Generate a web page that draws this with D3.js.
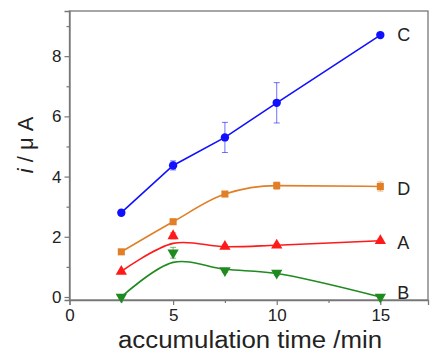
<!DOCTYPE html>
<html>
<head>
<meta charset="utf-8">
<script src="https://cdn.jsdelivr.net/npm/d3@7"></script>
<style>
  body { margin: 0; background: #fff; }
  text { font-family: "Liberation Sans", Arial, sans-serif; fill: #222; }
</style>
</head>
<body>
<div class="chart"></div>
<script>
// accumulation time (min)
var times = [2.5, 5, 7.5, 10, 15];

// measured currents (uA) and error bars
var seriesC = [2.8, 4.37, 5.3, 6.45, 8.7];
var errC = [0.08, 0.15, 0.5, 0.67, 0.06];
var seriesD = [1.5, 2.5, 3.42, 3.7, 3.67];
var errD = [0.05, 0.08, 0.08, 0.12, 0.15];
var seriesA = [0.85, 2.03, 1.68, 1.72, 1.87];
var errA = [0.03, 0.1, 0.05, 0.05, 0.05];
var seriesB = [0.0, 1.47, 0.88, 0.8, 0.0];
var errB = [0.03, 0.18, 0.06, 0.08, 0.03];

// fitted curves drawn through the points
var fitA = [0.85, 1.78, 1.67, 1.72, 1.87];
var fitB = [0.0, 1.15, 0.92, 0.78, 0.0];

var xTicks = [0, 5, 10, 15];
var yTicks = [0, 2, 4, 6, 8];

var width = 430, height = 353;
var mLeft = 69.5, mRight = 428, mTop = 11, mBottom = 300;

var x = d3.scaleLinear().domain([0, 17.3]).range([mLeft, mRight]);
var y = d3.scaleLinear().domain([-0.1, 9.5]).range([mBottom, mTop]);

var svg = d3.select('.chart').append('svg')
  .attr('width', width)
  .attr('height', height);

// frame
svg.append('rect')
  .attr('x', mLeft).attr('y', mTop)
  .attr('width', mRight - mLeft).attr('height', mBottom - mTop)
  .attr('fill', 'none').attr('stroke', '#777').attr('stroke-width', 1.3);

// x axis
svg.append('g')
  .attr('transform', 'translate(0,' + mBottom + ')')
  .call(d3.axisBottom(x).tickValues(xTicks).tickSize(5).tickPadding(4).tickFormat(d3.format('d')));
svg.append('g')
  .attr('transform', 'translate(0,' + mBottom + ')')
  .call(d3.axisBottom(x).tickValues([2.5, 7.5, 12.5]).tickSize(3).tickFormat(''))
  .select('.domain').remove();

// y axis
svg.append('g')
  .attr('transform', 'translate(' + mLeft + ',0)')
  .call(d3.axisLeft(y).tickValues(yTicks).tickSize(5).tickPadding(3).tickFormat(d3.format('d')));
svg.append('g')
  .attr('transform', 'translate(' + mLeft + ',0)')
  .call(d3.axisLeft(y).tickValues([1, 3, 5, 7, 9]).tickSize(3).tickFormat(''))
  .select('.domain').remove();

svg.selectAll('.domain').attr('stroke', '#777').attr('stroke-width', 1.3);
svg.selectAll('.tick line').attr('stroke', '#777').attr('stroke-width', 1.2);
svg.selectAll('.tick text').attr('font-size', 17).attr('fill', '#222')
  .attr('font-family', '"Liberation Sans", Arial, sans-serif');

// axis titles
svg.append('text')
  .attr('x', 250).attr('y', 348)
  .attr('text-anchor', 'middle')
  .attr('font-size', 23)
  .attr('textLength', 264)
  .attr('lengthAdjust', 'spacingAndGlyphs')
  .text('accumulation time /min');

var yt = svg.append('text')
  .attr('transform', 'translate(33,145) rotate(-90)')
  .attr('text-anchor', 'middle')
  .attr('font-size', 22);
yt.append('tspan').attr('font-style', 'italic').text('i');
yt.append('tspan').text(' / \u03bc A');

var sets = [
  { vals: seriesC, err: errC, fit: seriesC, color: '#1010ff', sym: d3.symbolCircle, size: 55, curve: d3.curveLinear, label: 'C' },
  { vals: seriesD, err: errD, fit: seriesD, color: '#e07f26', sym: d3.symbolSquare, size: 50, curve: d3.curveMonotoneX, label: 'D' },
  { vals: seriesA, err: errA, fit: fitA, color: '#ff1a1a', sym: d3.symbolTriangle, size: 55, curve: d3.curveCatmullRom, label: 'A' },
  { vals: seriesB, err: errB, fit: fitB, color: '#1f8a1f', sym: d3.symbolTriangle, size: 55, curve: d3.curveCatmullRom, label: 'B', down: true }
];

var labelY = { C: 8.7, D: 3.6, A: 1.8, B: 0.15 };

sets.forEach(function(s) {
  var g = svg.append('g');
  var line = d3.line()
    .x(function(d, i) { return x(times[i]); })
    .y(function(d) { return y(d); })
    .curve(s.curve);

  g.append('path')
    .datum(s.fit)
    .attr('d', line)
    .attr('fill', 'none')
    .attr('stroke', s.color)
    .attr('stroke-width', 1.6);

  // error bars
  s.vals.forEach(function(v, i) {
    var e = s.err[i];
    var cx = x(times[i]);
    g.append('line')
      .attr('x1', cx).attr('x2', cx)
      .attr('y1', y(v - e)).attr('y2', y(v + e))
      .attr('stroke', s.color).attr('stroke-opacity', 0.6).attr('stroke-width', 1);
    [v - e, v + e].forEach(function(t) {
      g.append('line')
        .attr('x1', cx - 3).attr('x2', cx + 3)
        .attr('y1', y(t)).attr('y2', y(t))
        .attr('stroke', s.color).attr('stroke-opacity', 0.6).attr('stroke-width', 1);
    });
  });

  g.selectAll('path.pt')
    .data(s.vals)
    .enter().append('path')
    .attr('class', 'pt')
    .attr('d', d3.symbol().type(s.sym).size(s.size))
    .attr('transform', function(d, i) {
      return 'translate(' + x(times[i]) + ',' + y(d) + ')' + (s.down ? ' rotate(180)' : '');
    })
    .attr('fill', s.color);

  svg.append('text')
    .attr('x', x(15) + 17)
    .attr('y', y(labelY[s.label]))
    .attr('dy', '0.35em')
    .attr('font-size', 18)
    .text(s.label);
});
</script>
</body>
</html>
